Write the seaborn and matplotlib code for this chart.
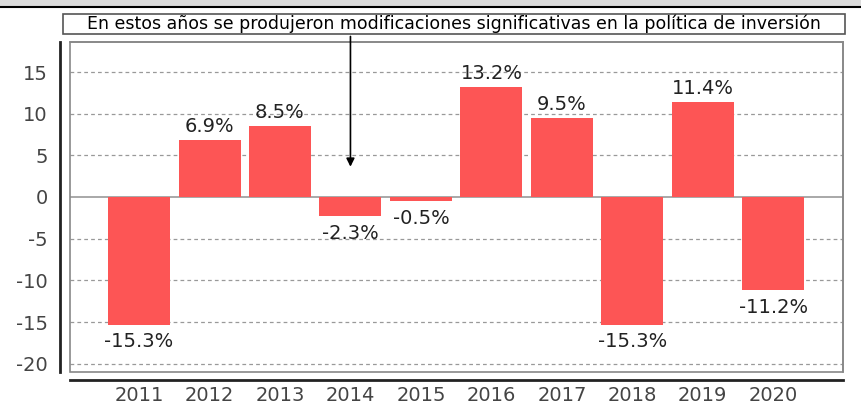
import matplotlib
matplotlib.use("Agg")
import matplotlib.pyplot as plt
import seaborn as sns
import pandas as pd
from matplotlib.patches import Rectangle
from matplotlib.lines import Line2D

years = ["2011", "2012", "2013", "2014", "2015", "2016", "2017", "2018", "2019", "2020"]
returns = [-15.3, 6.9, 8.5, -2.3, -0.5, 13.2, 9.5, -15.3, 11.4, -11.2]
yticks = [-20, -15, -10, -5, 0, 5, 10, 15]
note = "En estos años se produjeron modificaciones significativas en la política de inversión"
note_year = "2014"

df = pd.DataFrame({"year": years, "ret": returns})

sns.set_style("white")
plt.rcParams["font.family"] = ["DejaVu Sans"]
plt.rcParams["axes.unicode_minus"] = False

W, H = 862, 413
fig = plt.figure(figsize=(W / 100, H / 100), dpi=100)
ax = fig.add_axes([70 / W, 1 - 372 / H, (843 - 70) / W, (372 - 42) / H])

sns.barplot(data=df, x="year", y="ret", color="#fd5555", saturation=1, width=0.88, ax=ax, zorder=3)
for p in ax.patches:
    p.set_edgecolor("none")

ax.set_ylim(-21, 18.6)
ax.set_xlim(-0.98, 9.99)
ax.set_yticks(yticks)
ax.set_xlabel("")
ax.set_ylabel("")

for t in yticks:
    if t == 0:
        ax.axhline(0, color="#999999", lw=1.2, zorder=2)
    else:
        ax.axhline(t, color="#999999", lw=0.9, ls=(0, (3, 2.5)), zorder=1)

for i, v in enumerate(returns):
    if v >= 0:
        ax.text(i, v + 0.45, f"{v:.1f}%", ha="center", va="bottom", fontsize=14, color="#222222", zorder=5)
    else:
        ax.text(i, v - 0.9, f"{v:.1f}%", ha="center", va="top", fontsize=14, color="#222222", zorder=5)

# gray frame
for s in ["top", "right"]:
    ax.spines[s].set_color("#888888")
    ax.spines[s].set_linewidth(1.2)
ax.add_patch(Rectangle((0, 0), 1, 1, transform=ax.transAxes, fill=False,
                       edgecolor="#888888", lw=1.2, zorder=6, clip_on=False))

ax.spines["left"].set_position(("outward", 7))
ax.spines["left"].set_color("#222222")
ax.spines["left"].set_linewidth(2)
ax.spines["bottom"].set_position(("outward", 6))
ax.spines["bottom"].set_color("#222222")
ax.spines["bottom"].set_linewidth(2)

ax.tick_params(axis="y", direction="out", length=4, width=1, color="#444444",
               labelsize=14, labelcolor="#444444", pad=5)
ax.tick_params(axis="x", direction="in", length=4, width=1, color="#444444",
               labelsize=14, labelcolor="#444444", pad=4)

# annotation arrow
xi = years.index(note_year)
ax.annotate("", xy=(xi, 3.3), xytext=(xi, 18.6 + 1.0),
            arrowprops=dict(arrowstyle="-|>", color="black", lw=1.2, mutation_scale=12),
            annotation_clip=False, zorder=7)

# note box
fig.patches.append(Rectangle((63 / W, 1 - 34 / H), (845 - 63) / W, 20 / H, transform=fig.transFigure,
                             facecolor="white", edgecolor="#555555", lw=1.2))
txt = fig.text(454 / W, 1 - 24 / H, note, ha="center", va="center", fontsize=11,
               color="black")
renderer = fig.canvas.get_renderer()
wpx = txt.get_window_extent(renderer).width
txt.set_fontsize(min(12.5, 11 * 764 / wpx))

# top gray band
fig.patches.append(Rectangle((0, 1 - 6 / H), 1, 6 / H, transform=fig.transFigure,
                             facecolor="#dcdcdc", edgecolor="none"))
fig.lines.append(Line2D([0, 1], [1 - 7 / H, 1 - 7 / H], transform=fig.transFigure, color="black", lw=1.5))

fig.savefig("out.png", dpi=100)
